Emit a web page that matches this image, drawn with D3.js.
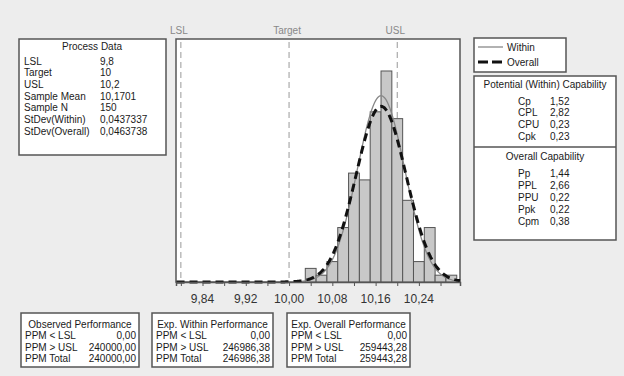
<!DOCTYPE html>
<html>
<head>
<meta charset="utf-8">
<script src="https://cdn.jsdelivr.net/npm/d3@7"></script>
<style>
  body { margin: 0; background: #ededed; }
  svg { font-family: "Liberation Sans", Arial, sans-serif; }
</style>
</head>
<body>
<div id="Chart"></div>
<script>
// histogram bins (centers) and counts
var binCenters = [10.04, 10.06, 10.08, 10.10, 10.12, 10.14, 10.16, 10.18, 10.20, 10.22, 10.24, 10.26, 10.28, 10.30];
var binCounts  = [2, 1, 3, 8, 16, 15, 25, 31, 24, 12, 3, 8, 1, 1];
var binWidth = 0.02;

var specNames  = ["LSL", "Target", "USL"];
var specValues = [9.8, 10, 10.2];

var xTicks = [9.80, 9.84, 9.88, 9.92, 9.96, 10.00, 10.04, 10.08, 10.12, 10.16, 10.20, 10.24, 10.28];
var xTickLabels = ["9,84", "9,92", "10,00", "10,08", "10,16", "10,24"];
var xLabelValues = [9.84, 9.92, 10.00, 10.08, 10.16, 10.24];

var sampleMean = 10.1701, sampleN = 150, sdWithin = 0.0437337, sdOverall = 0.0463738;

var processLabels = ["LSL", "Target", "USL", "Sample Mean", "Sample N", "StDev(Within)", "StDev(Overall)"];
var processValues = ["9,8", "10", "10,2", "10,1701", "150", "0,0437337", "0,0463738"];

var withinLabels = ["Cp", "CPL", "CPU", "Cpk"];
var withinValues = ["1,52", "2,82", "0,23", "0,23"];
var overallLabels = ["Pp", "PPL", "PPU", "Ppk", "Cpm"];
var overallValues = ["1,44", "2,66", "0,22", "0,22", "0,38"];

var perfTitles = ["Observed Performance", "Exp. Within Performance", "Exp. Overall Performance"];
var perfLabels = ["PPM < LSL", "PPM > USL", "PPM Total"];
var perfValues = [
  ["0,00", "240000,00", "240000,00"],
  ["0,00", "246986,38", "246986,38"],
  ["0,00", "259443,28", "259443,28"]
];

var width = 624, height = 376;
var svg = d3.select("#Chart").append("svg")
    .attr("width", width).attr("height", height);

svg.append("rect").attr("width", width).attr("height", height).attr("fill", "#ededed");

var border = "#555";
var txt = "#1a1a1a";

// plot area
var plot = {left: 176, right: 460, top: 39, bottom: 282};
var x = d3.scaleLinear().domain([9.791, 10.316]).range([plot.left, plot.right]);
var y = d3.scaleLinear().domain([0, 35.7]).range([plot.bottom, plot.top]);

svg.append("rect")
    .attr("x", plot.left).attr("y", plot.top)
    .attr("width", plot.right - plot.left).attr("height", plot.bottom - plot.top)
    .attr("fill", "#fff").attr("stroke", border).attr("stroke-width", 1.5);

// spec lines
svg.selectAll(".spec").data(specValues).enter().append("line")
    .attr("x1", d => x(d)).attr("x2", d => x(d))
    .attr("y1", plot.top + 3).attr("y2", plot.bottom)
    .attr("stroke", "#999").attr("stroke-width", 1)
    .attr("stroke-dasharray", "6,4");
svg.selectAll(".specLabel").data(specNames).enter().append("text")
    .attr("x", (d, i) => x(specValues[i]) - 2).attr("y", 34)
    .attr("text-anchor", "middle").attr("font-size", 10).attr("fill", "#888")
    .text(d => d);

// bars
svg.selectAll(".bar").data(binCenters).enter().append("rect")
    .attr("x", d => x(d - binWidth / 2))
    .attr("width", d => x(d + binWidth / 2) - x(d - binWidth / 2))
    .attr("y", (d, i) => y(binCounts[i]))
    .attr("height", (d, i) => y(0) - y(binCounts[i]))
    .attr("fill", "#c8c8c8").attr("stroke", "#555").attr("stroke-width", 1);

// fitted normal curves
function normal(sd) {
  var k = sampleN * binWidth / (sd * Math.sqrt(2 * Math.PI));
  return x.ticks(300).map(v => [v, k * Math.exp(-0.5 * Math.pow((v - sampleMean) / sd, 2))]);
}
var line = d3.line().x(d => x(d[0])).y(d => y(d[1]));
svg.append("path").datum(normal(sdWithin)).attr("d", line)
    .attr("fill", "none").attr("stroke", "#888").attr("stroke-width", 1.3);
svg.append("path").datum(normal(sdOverall)).attr("d", line)
    .attr("fill", "none").attr("stroke", "#111").attr("stroke-width", 3)
    .attr("stroke-dasharray", "8,5");

// x axis
var axis = svg.append("g").attr("transform", "translate(0," + plot.bottom + ")")
    .call(d3.axisBottom(x).tickValues(xTicks).tickSize(4).tickFormat(""));
axis.select(".domain").attr("stroke", border).attr("stroke-width", 1.5);
axis.selectAll(".tick line").attr("stroke", border);
svg.selectAll(".xlab").data(xLabelValues).enter().append("text")
    .attr("x", d => x(d)).attr("y", 303)
    .attr("text-anchor", "middle").attr("font-size", 12).attr("fill", "#333")
    .text((d, i) => xTickLabels[i]);

// helper for boxes
function box(x0, y0, w, h) {
  svg.append("rect").attr("x", x0).attr("y", y0).attr("width", w).attr("height", h)
      .attr("fill", "#fff").attr("stroke", border).attr("stroke-width", 1.5);
}
function label(xp, yp, t, anchor) {
  svg.append("text").attr("x", xp).attr("y", yp).attr("font-size", 10)
      .attr("fill", txt).attr("text-anchor", anchor || "start").text(t);
}

// process data
box(19, 39, 147, 116);
label(92, 49.5, "Process Data", "middle");
processLabels.forEach(function(t, i) {
  label(24, 64.5 + i * 11.7, t);
  label(100, 64.5 + i * 11.7, processValues[i]);
});

// legend
box(474, 38, 92, 34);
svg.append("line").attr("x1", 478).attr("x2", 503).attr("y1", 47).attr("y2", 47)
    .attr("stroke", "#888").attr("stroke-width", 1.3);
svg.append("line").attr("x1", 478).attr("x2", 503).attr("y1", 62).attr("y2", 62)
    .attr("stroke", "#111").attr("stroke-width", 3).attr("stroke-dasharray", "10,4");
label(507, 50.5, "Within");
label(507, 65.5, "Overall");

// capability
box(474, 76, 142, 164);
svg.append("line").attr("x1", 474).attr("x2", 616).attr("y1", 147).attr("y2", 147)
    .attr("stroke", border).attr("stroke-width", 1.5);
label(545, 88, "Potential (Within) Capability", "middle");
withinLabels.forEach(function(t, i) {
  label(518, 104.5 + i * 11.9, t);
  label(550, 104.5 + i * 11.9, withinValues[i]);
});
label(545, 160, "Overall Capability", "middle");
overallLabels.forEach(function(t, i) {
  label(518, 176.5 + i * 12.2, t);
  label(550, 176.5 + i * 12.2, overallValues[i]);
});

// performance boxes
var perfX = [21, 152, 287];
var perfW = [118, 121, 123];
perfTitles.forEach(function(t, b) {
  box(perfX[b], 313, perfW[b], 54);
  label(perfX[b] + perfW[b] / 2, 327.5, t, "middle");
  perfLabels.forEach(function(l, i) {
    label(perfX[b] + 4, 339 + i * 11.7, l);
    label(perfX[b] + perfW[b] - 3, 339 + i * 11.7, perfValues[b][i], "end");
  });
});
</script>
</body>
</html>
